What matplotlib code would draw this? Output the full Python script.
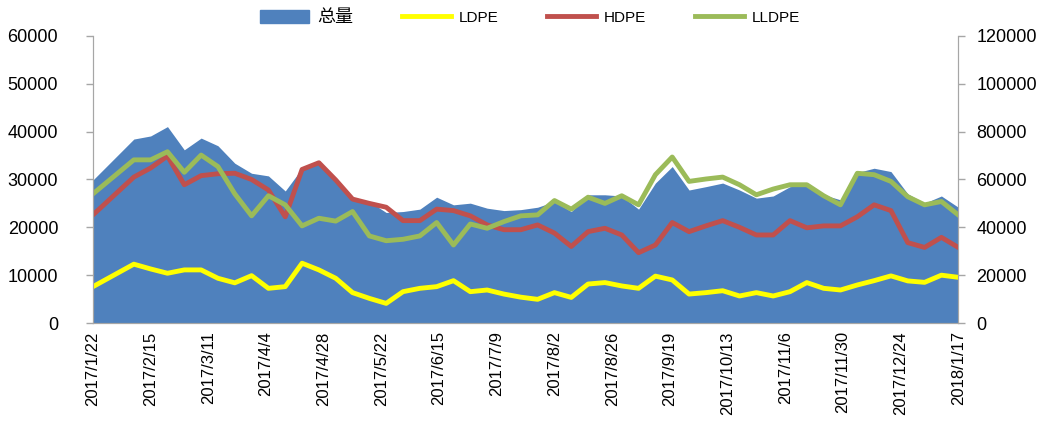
import numpy as np
import pandas as pd
import matplotlib
matplotlib.use("Agg")
import matplotlib.pyplot as plt
from matplotlib.patches import Patch
from matplotlib.lines import Line2D

plt.rcParams['font.family'] = ['Liberation Sans', 'Noto Sans CJK SC', 'DejaVu Sans']

dates = pd.to_datetime(["2017-01-22"]).append(
    pd.date_range("2017-02-08", "2018-01-17", freq="7D"))

ldpe = [7600, 12300, 11300, 10400, 11100, 11100, 9350, 8400, 9900, 7250,
        7600, 12500, 11100, 9350, 6350, 5150, 4100, 6550, 7250, 7600,
        8850, 6550, 6900, 6050, 5400, 4950, 6350, 5350, 8150, 8450,
        7750, 7250, 9800, 9000, 6050, 6350, 6750, 5650, 6350, 5650,
        6550, 8450, 7250, 6900, 7950, 8850, 9850, 8800, 8500, 10000, 9550]
hdpe = [22600, 30500, 32400, 34900, 28900, 30800, 31200, 31300, 30000, 27800,
        22200, 32100, 33500, 29900, 25900, 25000, 24200, 21400, 21400, 23800,
        23500, 22400, 20500, 19500, 19500, 20500, 18800, 16000, 19100, 19800,
        18400, 14700, 16300, 21000, 19100, 20300, 21400, 20000, 18400, 18400,
        21400, 19900, 20300, 20300, 22200, 24700, 23500, 16800, 15800, 17900, 15800]
lldpe = [27000, 34100, 34100, 35800, 31500, 35100, 32700, 27000, 22400, 26600,
         24700, 20300, 21900, 21300, 23300, 18200, 17200, 17500, 18200, 21000,
         16300, 20700, 19800, 21200, 22400, 22600, 25600, 23800, 26300, 25000,
         26600, 24700, 31000, 34700, 29600, 30100, 30500, 28900, 26800, 28000,
         28900, 28900, 26600, 24700, 31300, 31000, 29600, 26400, 24700, 25400, 22600]
total = [59800, 76900, 78200, 82100, 72400, 77300, 74100, 66800, 62600, 61500,
         55200, 64700, 67500, 60100, 52600, 50800, 46200, 46600, 47600, 52600,
         49400, 50100, 48000, 47000, 47400, 48400, 50800, 46600, 53600, 53600,
         53100, 47600, 58500, 65400, 55600, 57000, 58500, 55600, 52200, 53100,
         57000, 57700, 53600, 51500, 62900, 64700, 63300, 54000, 50100, 53100, 48400]

fig = plt.figure(figsize=(10.6, 4.28), dpi=100)
ax = fig.add_axes([0.0877, 0.2453, 0.8163, 0.6707])
ax2 = ax.twinx()

# area on the right-hand scale, drawn underneath the lines
ax.fill_between(dates, total, 0, color="#4F81BD", lw=0)
ax.set_ylim(0, 120000)
ax.set_yticks(np.arange(0, 120001, 20000))
ax.yaxis.tick_right()

ax2.plot(dates, ldpe, color="#FFFF00", lw=3.5)
ax2.plot(dates, hdpe, color="#C0504D", lw=3.5)
ax2.plot(dates, lldpe, color="#9BBB59", lw=3.5)
ax2.set_ylim(0, 60000)
ax2.set_yticks(np.arange(0, 60001, 10000))
ax2.yaxis.tick_left()

ticks = pd.date_range("2017-01-22", "2018-01-17", freq="24D")
ax.set_xticks(ticks)
ax.set_xticklabels([f"{d.year}/{d.month}/{d.day}" for d in ticks], rotation=90)
ax.set_xlim(dates[0], dates[-1])

for a in (ax, ax2):
    for s in a.spines.values():
        s.set_color("#A6A6A6")
    a.spines["top"].set_visible(False)
    a.tick_params(labelsize=13, color="#A6A6A6", length=5, width=1)
ax.tick_params(axis="x", length=0, pad=6, labelsize=12)
ax2.tick_params(axis="y", pad=20)
ax.tick_params(axis="y", pad=8)

handles = [Patch(color="#4F81BD"),
           Line2D([], [], color="#FFFF00", lw=3.5),
           Line2D([], [], color="#C0504D", lw=3.5),
           Line2D([], [], color="#9BBB59", lw=3.5)]
leg = fig.legend(handles, ["总量", "LDPE", "HDPE", "LLDPE"], loc="center",
                 bbox_to_anchor=(0.5, 0.96), ncol=4, frameon=False,
                 fontsize=11, handlelength=3.2, handleheight=0.9,
                 columnspacing=3.2, handletextpad=0.5)
leg.get_texts()[0].set_fontsize(13)

fig.savefig("out.png", dpi=100)
